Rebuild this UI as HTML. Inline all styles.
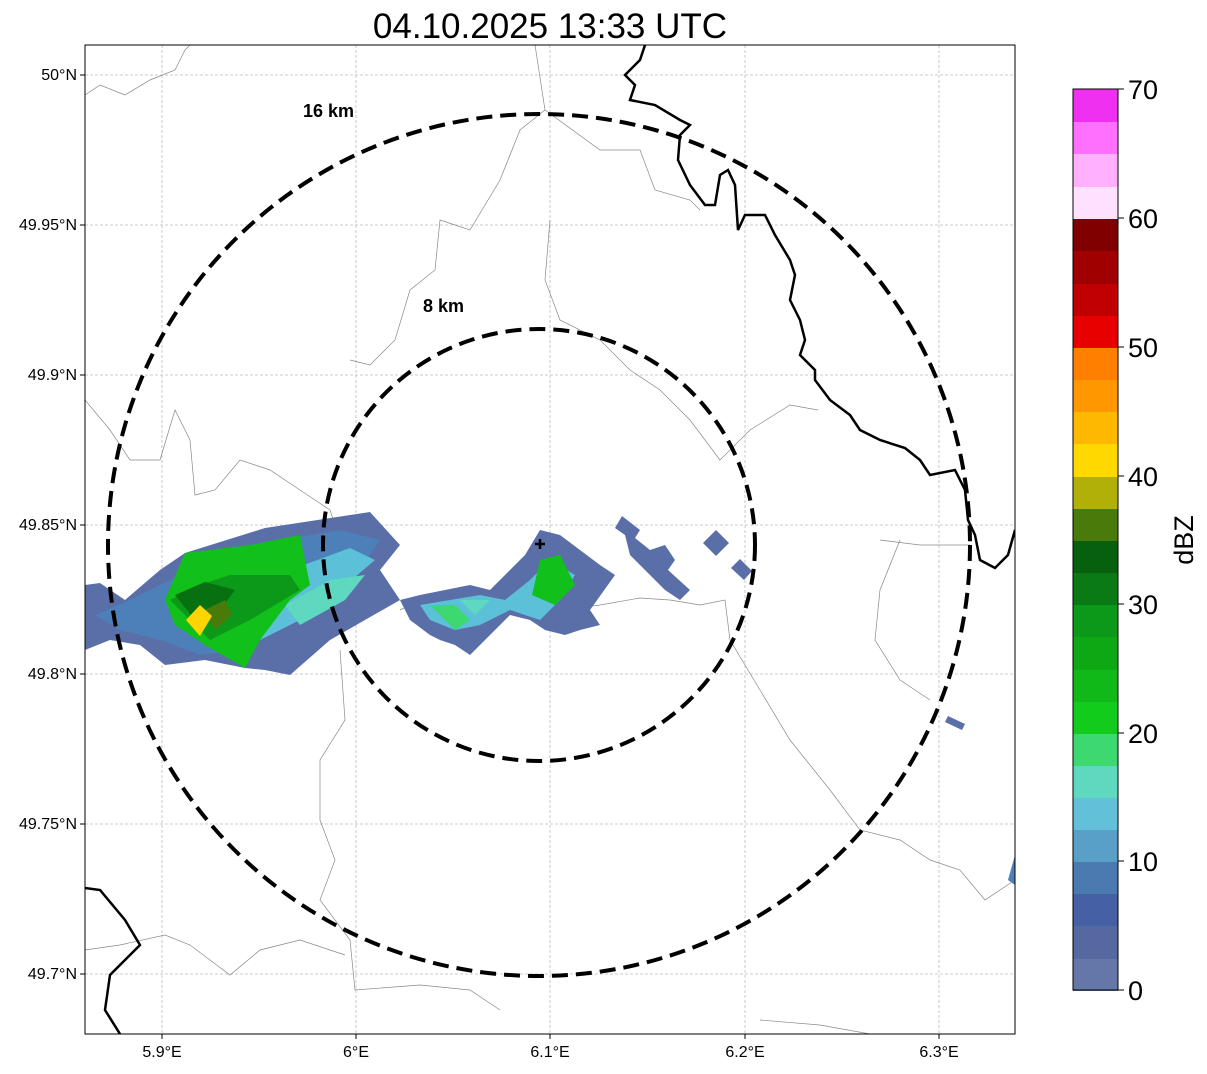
<!DOCTYPE html>
<html><head><meta charset="utf-8"><style>
body{margin:0;background:#fff;width:1207px;height:1069px;overflow:hidden;font-family:"Liberation Sans",sans-serif}
</style></head><body>
<svg width="1207" height="1069" viewBox="0 0 1207 1069" xmlns="http://www.w3.org/2000/svg" font-family="Liberation Sans, sans-serif">
<text x="550" y="38" font-size="35" text-anchor="middle">04.10.2025 13:33 UTC</text>
<defs><clipPath id="c"><rect x="85" y="45" width="930" height="989"/></clipPath></defs>
<g stroke="#bbb" stroke-width="0.8" stroke-dasharray="3,2">
<line x1="162" y1="45" x2="162" y2="1034"/><line x1="356" y1="45" x2="356" y2="1034"/><line x1="550" y1="45" x2="550" y2="1034"/><line x1="745" y1="45" x2="745" y2="1034"/><line x1="939" y1="45" x2="939" y2="1034"/>
<line x1="85" y1="75" x2="1015" y2="75"/><line x1="85" y1="225" x2="1015" y2="225"/><line x1="85" y1="375" x2="1015" y2="375"/><line x1="85" y1="525" x2="1015" y2="525"/><line x1="85" y1="674" x2="1015" y2="674"/><line x1="85" y1="824" x2="1015" y2="824"/><line x1="85" y1="974" x2="1015" y2="974"/>
</g>
<g clip-path="url(#c)" fill="none" stroke="#888" stroke-width="0.7">
<path d="M85,95 L100,85 L125,95 L150,80 L175,70 L185,50 L190,45"/>
<path d="M535,45 L545,110 L520,130 L500,180 L470,230 L440,220 L435,270 L410,290 L395,340 L370,365 L350,360"/>
<path d="M545,110 L600,150 L640,150 L655,190 L690,200 L700,210"/>
<path d="M550,220 L545,280 L560,320 L600,340 L630,370 L660,390 L690,420 L720,460 L750,430 L790,405 L818,410"/>
<path d="M85,400 L110,430 L130,460 L160,460 L175,410 L190,440 L195,495 L215,490 L240,460 L270,470 L300,490 L330,510 L340,540"/>
<path d="M400,610 L420,600 L445,620 L470,590 L510,600 L560,610 L600,605 L640,598 L670,600 L700,605 L725,600 L730,640 L760,690 L790,740 L830,790 L860,830 L900,840 L930,860 L960,870 L985,900 L1015,880"/>
<path d="M340,650 L345,720 L320,760 L320,820 L335,860 L320,900 L350,940 L355,990 L420,985 L470,990 L500,1010"/>
<path d="M85,950 L120,945 L165,935 L190,945 L230,975 L260,950 L300,940 L345,955"/>
<path d="M760,1020 L820,1025 L870,1034"/><path d="M880,540 L920,545 L970,545"/><path d="M900,540 L880,590 L875,640 L900,680 L930,700"/>
</g>
<g clip-path="url(#c)">
<polygon fill="#5a6ea8" points="85,585 100,583 125,600 160,570 185,553 265,528 370,512 400,545 380,570 400,600 330,640 290,675 265,670 245,668 205,660 165,665 140,645 110,640 85,650"/>
<polygon fill="#4d7fb8" points="95,615 130,600 170,580 220,560 280,540 340,530 380,540 360,570 320,600 280,630 240,650 200,655 160,640 120,630"/>
<polygon fill="#5cc0d8" points="230,600 290,570 350,548 375,560 340,590 300,620 260,640 240,630"/>
<polygon fill="#5fd8c0" points="285,605 330,580 365,575 345,600 300,625"/>
<polygon fill="#12c01c" points="185,553 250,545 300,535 310,585 290,600 260,640 245,668 205,645 175,625 165,600"/>
<polygon fill="#0c9818" points="170,600 200,585 230,575 290,575 300,590 250,620 210,640 185,615"/>
<polygon fill="#077010" points="175,595 205,582 235,590 220,610 195,620"/>
<polygon fill="#4a7a0a" points="205,610 225,600 232,615 215,630"/>
<polygon fill="#ffd400" points="186,620 200,605 212,616 200,636"/>
<polygon fill="#5a6ea8" points="400,600 420,595 470,585 490,590 525,555 540,530 560,535 600,565 615,575 590,610 600,625 580,630 565,635 545,630 530,620 510,615 485,640 470,655 455,645 440,640 430,635 410,620"/>
<polygon fill="#5cc0d8" points="420,605 450,600 480,595 505,600 530,580 550,560 575,575 560,600 540,620 510,610 480,625 455,630 430,620"/>
<polygon fill="#3ed870" points="430,605 455,605 470,620 455,630"/>
<polygon fill="#12c01c" points="540,560 560,555 575,585 555,605 532,595"/>
<polygon fill="#5fd8c0" points="460,600 490,600 475,615"/>
<polygon fill="#5a6ea8" points="622,516 640,530 635,538 650,550 665,545 675,560 668,570 690,590 680,600 665,590 655,580 640,565 630,555 625,535 615,528"/>
<polygon fill="#5a6ea8" points="716,530 729,543 716,556 703,543"/>
<polygon fill="#5a6ea8" points="740,559 752,571 744,580 731,568"/>
<polygon fill="#5a6ea8" points="948,716 965,724 962,730 945,722"/>
<polygon fill="#4d7fb8" points="1015,855 1008,880 1015,885"/>
</g>
<g clip-path="url(#c)" fill="none" stroke="#000" stroke-width="2.5">
<path d="M645,45 L640,60 L625,75 L635,85 L630,100 L655,105 L680,120 L690,125 L680,135 L678,160 L690,185 L705,205 L715,205 L720,175 L728,170 L735,185 L738,230 L745,215 L765,215 L775,235 L790,260 L795,275 L790,300 L800,320 L805,340 L800,355 L815,370 L815,380 L830,400 L850,415 L860,430 L880,440 L905,448 L920,460 L930,475 L955,470 L965,490 L968,520 L975,535 L980,560 L995,568 L1008,555 L1015,530"/>
<path d="M85,888 L100,890 L125,920 L140,945 L110,975 L105,1010 L120,1034"/>
</g>
<g fill="none" stroke="#000" stroke-width="4" stroke-dasharray="16,8">
<ellipse cx="539" cy="545" rx="431" ry="431"/>
<ellipse cx="539" cy="545" rx="216" ry="216"/>
</g>
<path d="M540,539 v10 M535,544 h10" stroke="#000" stroke-width="2.5"/>
<text x="303" y="117" font-size="18" font-weight="bold">16 km</text>
<text x="423" y="312" font-size="18" font-weight="bold">8 km</text>
<rect x="85" y="45" width="930" height="989" fill="none" stroke="#000" stroke-width="1"/>
<g stroke="#000"><line x1="80" y1="75" x2="85" y2="75"/><line x1="80" y1="225" x2="85" y2="225"/><line x1="80" y1="375" x2="85" y2="375"/><line x1="80" y1="525" x2="85" y2="525"/><line x1="80" y1="674" x2="85" y2="674"/><line x1="80" y1="824" x2="85" y2="824"/><line x1="80" y1="974" x2="85" y2="974"/>
<line x1="162" y1="1034" x2="162" y2="1039"/><line x1="356" y1="1034" x2="356" y2="1039"/><line x1="550" y1="1034" x2="550" y2="1039"/><line x1="745" y1="1034" x2="745" y2="1039"/><line x1="939" y1="1034" x2="939" y2="1039"/></g>
<g font-size="16" text-anchor="end">
<text x="77" y="80">50°N</text><text x="77" y="230">49.95°N</text><text x="77" y="380">49.9°N</text><text x="77" y="530">49.85°N</text><text x="77" y="679">49.8°N</text><text x="77" y="829">49.75°N</text><text x="77" y="979">49.7°N</text>
</g>
<g font-size="16" text-anchor="middle">
<text x="162" y="1057">5.9°E</text><text x="356" y="1057">6°E</text><text x="550" y="1057">6.1°E</text><text x="745" y="1057">6.2°E</text><text x="939" y="1057">6.3°E</text>
</g>
<g>
<rect x="1073" y="958" width="45" height="33" fill="#6577a8"/>
<rect x="1073" y="926" width="45" height="33" fill="#5568a0"/>
<rect x="1073" y="893" width="45" height="33" fill="#4660a5"/>
<rect x="1073" y="861" width="45" height="33" fill="#4a7ab0"/>
<rect x="1073" y="829" width="45" height="33" fill="#58a0c8"/>
<rect x="1073" y="797" width="45" height="33" fill="#62c0d8"/>
<rect x="1073" y="765" width="45" height="33" fill="#5fd8c0"/>
<rect x="1073" y="733" width="45" height="33" fill="#3ed870"/>
<rect x="1073" y="701" width="45" height="33" fill="#12cc1c"/>
<rect x="1073" y="669" width="45" height="33" fill="#10b818"/>
<rect x="1073" y="637" width="45" height="33" fill="#0ea814"/>
<rect x="1073" y="604" width="45" height="33" fill="#0c9818"/>
<rect x="1073" y="572" width="45" height="33" fill="#0a7a14"/>
<rect x="1073" y="540" width="45" height="33" fill="#06600e"/>
<rect x="1073" y="508" width="45" height="33" fill="#4a7a0a"/>
<rect x="1073" y="476" width="45" height="33" fill="#b0b008"/>
<rect x="1073" y="444" width="45" height="33" fill="#ffd800"/>
<rect x="1073" y="411" width="45" height="33" fill="#ffb800"/>
<rect x="1073" y="379" width="45" height="33" fill="#ff9800"/>
<rect x="1073" y="347" width="45" height="33" fill="#ff7f00"/>
<rect x="1073" y="315" width="45" height="33" fill="#e80000"/>
<rect x="1073" y="283" width="45" height="33" fill="#c00000"/>
<rect x="1073" y="251" width="45" height="33" fill="#a00000"/>
<rect x="1073" y="218" width="45" height="33" fill="#800000"/>
<rect x="1073" y="186" width="45" height="33" fill="#ffe0ff"/>
<rect x="1073" y="154" width="45" height="33" fill="#ffb0ff"/>
<rect x="1073" y="121" width="45" height="33" fill="#ff70ff"/>
<rect x="1073" y="89" width="45" height="33" fill="#f030f0"/>
<rect x="1073" y="89" width="45" height="901" fill="none" stroke="#000" stroke-width="1"/>
</g>
<g font-size="27">
<g stroke="#000"><line x1="1118" y1="990" x2="1124" y2="990"/><line x1="1118" y1="861" x2="1124" y2="861"/><line x1="1118" y1="733" x2="1124" y2="733"/><line x1="1118" y1="604" x2="1124" y2="604"/><line x1="1118" y1="476" x2="1124" y2="476"/><line x1="1118" y1="347" x2="1124" y2="347"/><line x1="1118" y1="218" x2="1124" y2="218"/><line x1="1118" y1="89" x2="1124" y2="89"/></g>
<text x="1128" y="1000">0</text><text x="1128" y="871">10</text><text x="1128" y="743">20</text><text x="1128" y="614">30</text><text x="1128" y="486">40</text><text x="1128" y="357">50</text><text x="1128" y="228">60</text><text x="1128" y="99">70</text>
<text transform="translate(1193,540) rotate(-90)" text-anchor="middle">dBZ</text>
</g>
</svg>
</body></html>
